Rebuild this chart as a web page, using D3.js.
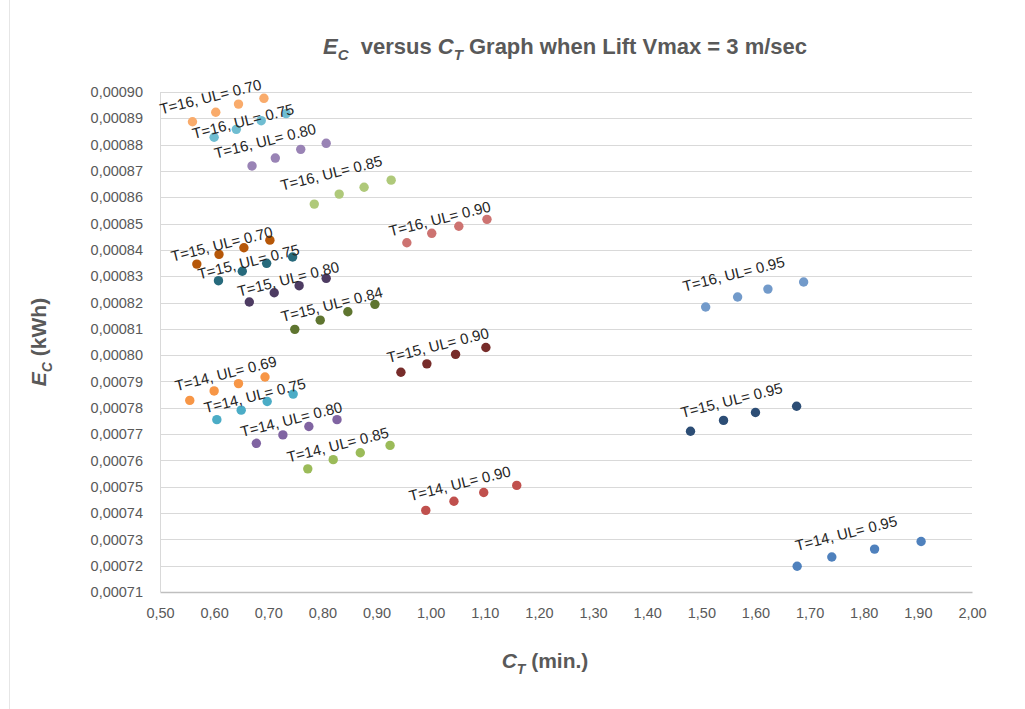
<!DOCTYPE html>
<html>
<head>
<meta charset="utf-8">
<script src="https://cdn.jsdelivr.net/npm/d3@7"></script>
<style>
  html, body { margin: 0; padding: 0; background: #ffffff; }
  svg { display: block; }
</style>
</head>
<body>
<svg id="chart" width="1025" height="709"></svg>
<script>
// ---------------- DATA ----------------
const seriesNames = [
  "T=16, UL= 0.70", "T=16, UL= 0.75", "T=16, UL= 0.80", "T=16, UL= 0.85", "T=16, UL= 0.90", "T=16, UL= 0.95",
  "T=15, UL= 0.70", "T=15, UL= 0.75", "T=15, UL= 0.80", "T=15, UL= 0.84", "T=15, UL= 0.90", "T=15, UL= 0.95",
  "T=14, UL= 0.69", "T=14, UL= 0.75", "T=14, UL= 0.80", "T=14, UL= 0.85", "T=14, UL= 0.90", "T=14, UL= 0.95"
];
const ctValues = [
  [0.560, 0.603, 0.645, 0.692],
  [0.600, 0.641, 0.687, 0.733],
  [0.670, 0.713, 0.760, 0.807],
  [0.785, 0.831, 0.877, 0.927],
  [0.956, 1.002, 1.052, 1.104],
  [1.508, 1.567, 1.623, 1.689],
  [0.568, 0.609, 0.655, 0.703],
  [0.608, 0.652, 0.697, 0.745],
  [0.665, 0.711, 0.757, 0.807],
  [0.749, 0.796, 0.847, 0.897],
  [0.945, 0.993, 1.046, 1.102],
  [1.480, 1.541, 1.600, 1.676],
  [0.555, 0.600, 0.645, 0.694],
  [0.605, 0.650, 0.698, 0.746],
  [0.678, 0.727, 0.775, 0.827],
  [0.773, 0.820, 0.870, 0.925],
  [0.991, 1.043, 1.098, 1.159],
  [1.677, 1.741, 1.820, 1.906]
];
const ecValues = [
  [0.0008887, 0.0008923, 0.0008954, 0.0008976],
  [0.0008828, 0.0008858, 0.0008891, 0.0008918],
  [0.0008719, 0.0008749, 0.0008782, 0.0008805],
  [0.0008574, 0.0008612, 0.0008638, 0.0008665],
  [0.0008427, 0.0008463, 0.0008490, 0.0008516],
  [0.0008183, 0.0008221, 0.0008251, 0.0008278],
  [0.0008346, 0.0008383, 0.0008408, 0.0008437],
  [0.0008283, 0.0008319, 0.0008349, 0.0008373],
  [0.0008202, 0.0008237, 0.0008264, 0.0008292],
  [0.0008098, 0.0008133, 0.0008165, 0.0008193],
  [0.0007935, 0.0007967, 0.0008003, 0.0008029],
  [0.0007711, 0.0007752, 0.0007782, 0.0007806],
  [0.0007828, 0.0007864, 0.0007892, 0.0007917],
  [0.0007755, 0.0007791, 0.0007824, 0.0007852],
  [0.0007665, 0.0007697, 0.0007729, 0.0007755],
  [0.0007568, 0.0007603, 0.0007629, 0.0007657],
  [0.0007410, 0.0007445, 0.0007478, 0.0007505],
  [0.0007198, 0.0007233, 0.0007263, 0.0007292]
];
const xTickValues = [0.5, 0.6, 0.7, 0.8, 0.9, 1.0, 1.1, 1.2, 1.3, 1.4, 1.5, 1.6, 1.7, 1.8, 1.9, 2.0];
const yTickValues = [0.00071, 0.00072, 0.00073, 0.00074, 0.00075, 0.00076, 0.00077, 0.00078, 0.00079, 0.00080,
                     0.00081, 0.00082, 0.00083, 0.00084, 0.00085, 0.00086, 0.00087, 0.00088, 0.00089, 0.00090];

// ---------------- STYLE / LAYOUT ----------------
const seriesColors = [
  "#F9AB6B", "#6FBDD1", "#9983B5", "#AFC97A", "#CD7371", "#729ACA",
  "#B65708", "#276A7C", "#4D3B62", "#5F7530", "#772C2A", "#2C4D75",
  "#F79646", "#4BACC6", "#8064A2", "#9BBB59", "#C0504D", "#4F81BD"
];
// label nudges (pixels) relative to each series' first point
const labelNudge = [
  [18, -25], [29, -16], [13, -25], [17, -31], [33, -24], [28, -33],
  [25, -20], [30, -19], [39, -23], [37, -25], [37, -27], [41, -31],
  [36, -27], [38, -24], [35, -24], [30, -24], [34, -27], [49, -33]
];
const plot = { left: 160, right: 972, top: 92, bottom: 592 };
const tickFont = "'Liberation Sans', Arial, sans-serif";

const svg = d3.select("#chart");

// faint spreadsheet remnants at far left
svg.append("line").attr("x1", 9.5).attr("x2", 9.5).attr("y1", 0).attr("y2", 709)
  .attr("stroke", "#e6e6e6").attr("stroke-width", 1);

const x = d3.scaleLinear().domain([0.5, 2.0]).range([plot.left, plot.right]);
const y = d3.scaleLinear().domain([0.00071, 0.00090]).range([plot.bottom, plot.top]);

// gridlines
svg.append("g")
  .selectAll("line")
  .data(yTickValues.slice(1))
  .join("line")
  .attr("x1", plot.left).attr("x2", plot.right)
  .attr("y1", d => Math.round(y(d)) + 0.5).attr("y2", d => Math.round(y(d)) + 0.5)
  .attr("stroke", "#d9d9d9").attr("stroke-width", 1);

// left axis line
svg.append("line")
  .attr("x1", plot.left + 0.5).attr("x2", plot.left + 0.5)
  .attr("y1", plot.top).attr("y2", plot.bottom)
  .attr("stroke", "#d9d9d9").attr("stroke-width", 1);

// y axis
const yAxis = d3.axisLeft(y)
  .tickValues(yTickValues)
  .tickSize(0)
  .tickPadding(17)
  .tickFormat(d => d3.format(".5f")(d).replace(".", ","));
const gy = svg.append("g").attr("transform", `translate(${plot.left},0)`).call(yAxis);
gy.select(".domain").remove();
gy.selectAll("text").attr("fill", "#595959").attr("font-size", "14.5px").attr("font-family", tickFont);

// x axis
const xAxis = d3.axisBottom(x)
  .tickValues(xTickValues)
  .tickSize(0)
  .tickPadding(16)
  .tickFormat(d => d3.format(".2f")(d).replace(".", ","));
const gx = svg.append("g").attr("transform", `translate(0,${plot.bottom})`).call(xAxis);
gx.select(".domain").attr("stroke", "#bfbfbf").attr("stroke-width", 1.5);
gx.selectAll("text").attr("fill", "#595959").attr("font-size", "14.5px").attr("font-family", tickFont);

// points
const series = seriesNames.map((name, i) => ({
  name, color: seriesColors[i], nudge: labelNudge[i],
  pts: ctValues[i].map((c, j) => ({ c, e: ecValues[i][j] }))
}));

const gs = svg.append("g").selectAll("g").data(series).join("g");
gs.selectAll("circle")
  .data(d => d.pts.map(p => ({ ...p, color: d.color })))
  .join("circle")
  .attr("cx", d => x(d.c))
  .attr("cy", d => y(d.e))
  .attr("r", 4.7)
  .attr("fill", d => d.color);

// labels
svg.append("g").selectAll("text")
  .data(series)
  .join("text")
  .attr("transform", d => {
    const lx = x(d.pts[0].c) + d.nudge[0];
    const ly = y(d.pts[0].e) + d.nudge[1];
    return `translate(${lx},${ly}) rotate(-14)`;
  })
  .attr("text-anchor", "middle")
  .attr("dy", "0.35em")
  .attr("font-family", "'Liberation Sans', Arial, sans-serif")
  .attr("font-size", "15px")
  .attr("fill", "#262626")
  .text(d => d.name);

// title
const title = svg.append("text")
  .attr("x", 565).attr("y", 54)
  .attr("text-anchor", "middle")
  .attr("font-family", "'Liberation Sans', Arial, sans-serif")
  .attr("font-weight", "bold")
  .attr("font-size", "22px")
  .attr("fill", "#595959");
title.append("tspan").attr("font-style", "italic").text("E");
title.append("tspan").attr("font-style", "italic").attr("font-size", "15px").attr("dy", 6).text("C");
title.append("tspan").attr("dy", -6).text("\u00a0 versus ");
title.append("tspan").attr("font-style", "italic").text("C");
title.append("tspan").attr("font-style", "italic").attr("font-size", "15px").attr("dy", 6).text("T");
title.append("tspan").attr("dy", -6).text(" Graph when Lift Vmax = 3 m/sec");

// x axis title
const xt = svg.append("text")
  .attr("x", 545).attr("y", 668)
  .attr("text-anchor", "middle")
  .attr("font-family", "'Liberation Sans', Arial, sans-serif")
  .attr("font-weight", "bold")
  .attr("font-size", "21px")
  .attr("fill", "#595959");
xt.append("tspan").attr("font-style", "italic").text("C");
xt.append("tspan").attr("font-style", "italic").attr("font-size", "14px").attr("dy", 6).text("T");
xt.append("tspan").attr("dy", -6).text(" (min.)");

// y axis title
const yt = svg.append("text")
  .attr("transform", `translate(46,${(plot.top + plot.bottom) / 2}) rotate(-90)`)
  .attr("text-anchor", "middle")
  .attr("font-family", "'Liberation Sans', Arial, sans-serif")
  .attr("font-weight", "bold")
  .attr("font-size", "21px")
  .attr("fill", "#595959");
yt.append("tspan").attr("font-style", "italic").text("E");
yt.append("tspan").attr("font-style", "italic").attr("font-size", "14px").attr("dy", 6).text("C");
yt.append("tspan").attr("dy", -6).text(" (kWh)");
</script>
</body>
</html>
